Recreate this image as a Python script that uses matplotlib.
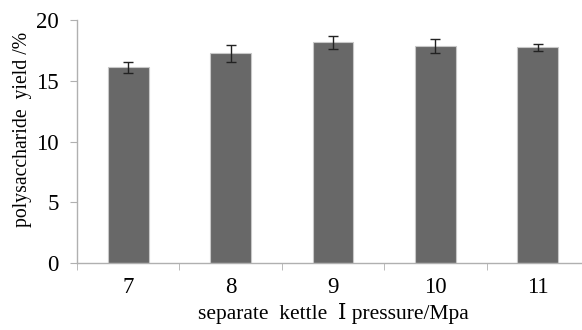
import matplotlib
matplotlib.use("Agg")
import matplotlib.pyplot as plt
import numpy as np

# data
PRESSURES = ["7", "8", "9", "10", "11"]
YIELD = [16.1, 17.25, 18.15, 17.85, 17.75]
ERR = [0.45, 0.7, 0.5, 0.55, 0.3]

plt.rcParams["font.family"] = ["Liberation Serif", "DejaVu Serif", "Noto Sans CJK SC"]

fig = plt.figure(figsize=(5.82, 3.30), dpi=100)
ax = fig.add_axes([77 / 582, 67 / 330, 512 / 582, 243 / 330])

x = np.arange(len(PRESSURES))
ax.bar(x, YIELD, width=0.4, color="#686868", edgecolor="#c8c8c8", linewidth=0.8,
       yerr=ERR, error_kw=dict(ecolor="#222222", elinewidth=1.0, capsize=3.5, capthick=1.0),
       zorder=2)

ax.set_xlim(-0.5, len(PRESSURES) - 0.5)
ax.set_ylim(0, 20)
ax.set_yticks([0, 5, 10, 15, 20])
ax.set_xticks(x)
ax.set_xticklabels(PRESSURES)
ax.set_xticks(np.arange(len(PRESSURES) + 1) - 0.5, minor=True)
ax.tick_params(axis="x", which="major", length=0, pad=10, labelsize=16.5)
ax.tick_params(axis="x", which="minor", length=5, color="#b0b0b0", direction="out")
ax.tick_params(axis="y", length=5, color="#b0b0b0", labelsize=16.5, pad=8)

for side in ["top", "right"]:
    ax.spines[side].set_visible(False)
for side in ["left", "bottom"]:
    ax.spines[side].set_color("#b0b0b0")
    ax.spines[side].set_linewidth(1.0)

ax.set_ylabel("polysaccharide  yield /%", fontsize=14.2)
ax.yaxis.set_label_coords(-0.088, 0.55)
ax.set_xlabel("separate  kettle  \u2160 pressure/Mpa", fontsize=15.5, labelpad=4)

fig.savefig("out.png", dpi=100)
